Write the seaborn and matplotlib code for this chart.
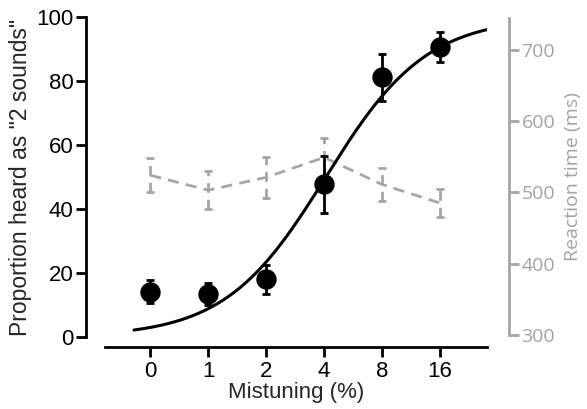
import numpy as np
import pandas as pd
import matplotlib
matplotlib.use("Agg")
import matplotlib.pyplot as plt
import seaborn as sns

# Mistuning conditions (plotted at evenly spaced category positions)
mistuning_labels = ["0", "1", "2", "4", "8", "16"]

# Proportion of trials heard as "2 sounds" (%), mean and s.e.m.
prop_two = [14.2, 13.4, 18.0, 47.7, 81.1, 90.5]
prop_err = [3.7, 3.5, 4.5, 8.8, 7.4, 4.7]

# Reaction time (ms), mean and s.e.m.
rt_mean = [524, 503, 521, 549, 511, 485]
rt_err = [24, 27, 29, 27, 23, 19]

# Psychometric (logistic) fit parameters, in category-position units
fit_midpoint = 3.03
fit_slope = 0.87
fit_range = (-0.28, 5.8)

sns.set_theme(style="ticks")
plt.rcParams["font.family"] = ["Liberation Sans", "DejaVu Sans"]

pos = np.arange(len(mistuning_labels))
df = pd.DataFrame({"pos": pos, "prop": prop_two, "prop_err": prop_err,
                   "rt": rt_mean, "rt_err": rt_err})

xf = np.linspace(fit_range[0], fit_range[1], 300)
fit = pd.DataFrame({"x": xf, "y": 100.0 / (1.0 + np.exp(-(xf - fit_midpoint) / fit_slope))})

fig = plt.figure(figsize=(5.87, 4.09), dpi=100)
ax = fig.add_axes([105 / 587, 1 - 337 / 409, (487 - 105) / 587, (337 - 17) / 409])
ax2 = ax.twinx()

grey = "#a6a6a6"
grey_txt = "#a3a3a3"

# Reaction time on the right axis: dashed grey line with dashed error bars
sns.lineplot(data=df, x="pos", y="rt", ax=ax2, color=grey, lw=2.0,
             dashes=False, legend=False)
ax2.lines[-1].set_dashes((4, 2.6))
eb = ax2.errorbar(df["pos"], df["rt"], yerr=df["rt_err"], fmt="none",
                  ecolor=grey, elinewidth=2.0, capsize=3, capthick=2.0)
for coll in eb[2]:
    coll.set_linestyle((0, (3.5, 2.5)))

# Proportion on the left axis: logistic fit, error bars and filled circles
sns.lineplot(data=fit, x="x", y="y", ax=ax, color="black", lw=2.2, legend=False)
ax.errorbar(df["pos"], df["prop"], yerr=df["prop_err"], fmt="none",
            ecolor="black", elinewidth=2.0, capsize=3.2, capthick=2.0, zorder=3)
sns.scatterplot(data=df, x="pos", y="prop", ax=ax, color="black", s=215,
                edgecolor="black", linewidth=0, zorder=4, legend=False)

ax.set_zorder(ax2.get_zorder() + 1)
ax.patch.set_visible(False)

# Left / bottom axes
ax.set_xlim(-0.78, 5.81)
ax.set_ylim(0, 100)
ax.set_xticks(pos)
ax.set_xticklabels(mistuning_labels)
ax.set_yticks([0, 20, 40, 60, 80, 100])
ax.set_xlabel("Mistuning (%)", fontsize=16, labelpad=0)
ax.set_ylabel('Proportion heard as "2 sounds"', fontsize=16.5, labelpad=3)
for side in ["top", "right"]:
    ax.spines[side].set_visible(False)
ax.spines["left"].set_position(("outward", 13.7))
ax.spines["bottom"].set_position(("outward", 7.2))
for side in ["left", "bottom"]:
    ax.spines[side].set_linewidth(2.0)
    ax.spines[side].set_color("black")
ax.tick_params(axis="both", which="major", length=7, width=2.0, color="black",
               labelsize=16, labelcolor="black")
ax.tick_params(axis="y", pad=2)
ax.tick_params(axis="x", pad=3)

# Right axis
ax2.set_ylim(297, 746)
ax2.set_yticks([300, 400, 500, 600, 700])
ax2.spines["right"].set_bounds(300, 744)
for side in ["left", "top", "bottom"]:
    ax2.spines[side].set_visible(False)
ax2.spines["right"].set_position(("outward", 15.8))
ax2.spines["right"].set_linewidth(2.0)
ax2.spines["right"].set_color(grey)
ax2.tick_params(axis="y", length=7, width=2.0, color=grey, labelsize=14,
                labelcolor=grey_txt, pad=2)
for lab in ax2.get_yticklabels():
    lab.set_family(["Open Sans", "DejaVu Sans"])
ax2.set_ylabel("Reaction time (ms)", fontsize=14, color=grey_txt,
               family=["Open Sans", "DejaVu Sans"], labelpad=6)
ax2.set_xlabel("")

fig.savefig("out.png", dpi=100)
